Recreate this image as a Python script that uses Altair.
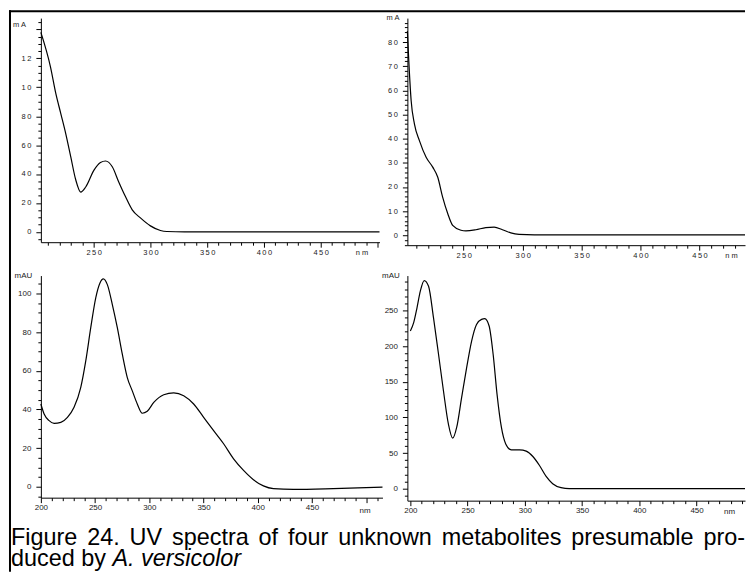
import altair as alt
import pandas as pd

# ---------------- data ----------------
# Panel A (top-left)
A_NM = [203.5, 212, 216.7, 221, 225.4, 229.8, 234.2, 238.6, 243, 250.3, 256, 260.5,
        266.4, 272, 278, 284, 291.2, 300, 308.8, 314.6, 330, 360, 400, 450, 501.8]
A_VAL = [138, 114, 95.6, 82, 68, 52, 36, 27.5, 31, 42.7, 48, 49,
         45, 34.7, 24.4, 15.2, 9.6, 4.1, 0.9, 0.2, 0, 0, 0, 0, 0]

# Panel B (top-right)
B_NM = [202.3, 203.5, 205.5, 208.3, 212.5, 218.2, 223.8, 228, 232.2, 236.5, 240.7, 247.7,
        251.9, 260.4, 268.8, 275.9, 282.9, 290, 297, 310, 350, 400, 450, 488.6]
B_VAL = [84.5, 72.2, 55.7, 46, 39.2, 32.3, 28.2, 24.1, 15.8, 9.0, 4.1, 2.1,
         1.8, 2.3, 3.2, 3.4, 2.3, 1.0, 0.4, 0.2, 0.2, 0.2, 0.2, 0.2]

# Panel C (bottom-left)
C_NM = [200, 203, 207.6, 212.2, 218.4, 224.5, 230.6, 236.8, 241.4, 246, 250.6, 254.5, 257.6,
        261.3, 265.9, 270.5, 275.1, 279.7, 284.3, 288.9, 293.5, 298.1, 304.1, 313.3, 322.5,
        331.7, 340.9, 350.1, 359.3, 368.5, 377.7, 386.9, 396, 405.2, 414.4, 432.8, 469.6, 515]
C_VAL = [42.8, 37.6, 34.2, 32.8, 33.3, 35.9, 41.1, 51.4, 65.1, 82.3, 97.8, 105.5, 107.6,
         104.6, 94.3, 82.3, 68.6, 56.5, 49.6, 42.8, 38.0, 39.0, 43.6, 47.6, 48.6,
         47.1, 42.8, 35.9, 29.0, 22.2, 14.4, 8.4, 3.6, 0.4, -1.0, -1.4, -1.0, -0.2]

# Panel D (bottom-right)
D_NM = [200, 202.9, 205.8, 208.7, 212.1, 215.9, 220.2, 224.6, 228.9, 233.2, 237, 240.5,
        244.8, 249.2, 253.5, 257.8, 262.2, 265, 268.8, 272.3, 275.7, 279.5, 283.3, 288.2,
        295.4, 301.2, 307, 312.8, 318.6, 324.3, 331.6, 338.8, 360, 400, 450, 492.3]
D_VAL = [221, 232.8, 253.7, 277, 291.9, 284, 239.8, 188.5, 137.3, 90.8, 70.8, 86.2,
         128.1, 170, 207.1, 230.4, 237.4, 238.4, 228.1, 188.5, 132.7, 86.2, 62.8, 54.5,
         54.5, 52.6, 45.1, 32.5, 17.2, 7.0, 1.4, 0, 0, 0, 0, 0]

CAPTION_1 = ["Figure", "24.", "UV", "spectra", "of", "four", "unknown",
             "metabolites", "presumable", "pro-"]
CAPTION_2_PLAIN = "duced by "
CAPTION_2_ITALIC = "A. versicolor"

# ---------------- helpers ----------------
FONT = "Liberation Sans"
INK = "#1a1a1a"
THIN = "\u2009"

ARIAL = {"F": 611, "i": 222, "g": 556, "u": 556, "r": 333, "e": 556, "2": 556, "4": 556,
         ".": 278, "U": 722, "V": 667, "s": 500, "p": 556, "c": 500, "t": 278, "a": 556,
         "o": 556, "f": 278, "k": 500, "n": 556, "w": 722, "m": 833, "b": 556, "l": 222,
         "-": 333, "d": 556, "y": 500, "A": 667, "v": 500, " ": 278}


def tw(s, size):
    return sum(ARIAL.get(c, 556) for c in s) * size / 1000.0


def tick_size(major, big=5, small=3):
    return {"condition": {"test": f"datum.value % {major} === 0", "value": big}, "value": small}


def x_axis(values, fs, spaced, first_label, tx, ty):
    lab = "datum.label"
    if spaced:
        lab = f"join(split(datum.label, ''), '{THIN}')"
    expr = (f"datum.value % 50 === 0 && datum.value >= {first_label} && datum.value <= 450 "
            f"? {lab} : ''")
    return alt.Axis(values=values, labelExpr=expr, tickSize=tick_size(50, 5, 3),
                    grid=False, domainColor="black", tickColor="black", domainWidth=1,
                    tickWidth=1, labelFont=FONT, labelFontSize=fs, labelColor=INK,
                    labelPadding=1, labelFlush=False, labelOverlap=False,
                    title="nm" if not spaced else "n m", titleFont=FONT, titleFontSize=fs,
                    titleFontWeight="normal", titleColor=INK, titleAngle=0,
                    titleX=tx, titleY=ty, titleAlign="center", titleBaseline="middle")


def y_axis(values, major, top_label, fs, spaced, title, tx, ty, trunc=False):
    lab = "datum.label"
    if trunc:
        lab = "(datum.value >= 100 ? slice(datum.label, 0, 2) : datum.label)"
    if spaced:
        lab = f"join(split({lab}, ''), '{THIN}')"
    expr = (f"datum.value % {major} === 0 && datum.value >= 0 && datum.value <= {top_label} "
            f"? {lab} : ''")
    return alt.Axis(values=values, labelExpr=expr, tickSize=tick_size(major, 5, 3),
                    grid=False, domainColor="black", tickColor="black", domainWidth=1,
                    tickWidth=1, labelFont=FONT, labelFontSize=fs, labelColor=INK,
                    labelPadding=5, labelFlush=False, labelOverlap=False,
                    title=title, titleFont=FONT, titleFontSize=fs, titleFontWeight="normal",
                    titleColor=INK, titleAngle=0, titleX=tx, titleY=ty,
                    titleAlign="center", titleBaseline="middle")


def spectrum(nm, val, xdom, ydom, xax, yax):
    df = pd.DataFrame({"nm": nm, "val": val})
    return alt.Chart(df).mark_line(color="black", strokeWidth=1.2,
                                   interpolate="monotone").encode(
        x=alt.X("nm:Q", scale=alt.Scale(domain=xdom, nice=False, zero=False), axis=xax),
        y=alt.Y("val:Q", scale=alt.Scale(domain=ydom, nice=False, zero=False), axis=yax),
    )


one = pd.DataFrame({"k": [0]})

# ---------------- panels ----------------
p1_line = spectrum(
    A_NM, A_VAL, [203.5, 501.8], [-7.2, 147.9],
    x_axis(list(range(210, 501, 10)), 7.5, True, 250, 322, 10),
    y_axis(list(range(-5, 148, 5)), 20, 120, 7.5, True, "m A", -22, 6, trunc=True),
)
border_v = alt.Chart(one).mark_rule(color="black", strokeWidth=2).encode(
    x=alt.value(-31), y=alt.value(-8), y2=alt.value(556))
border_h = alt.Chart(one).mark_rule(color="black", strokeWidth=2).encode(
    x=alt.value(-32), x2=alt.value(707), y=alt.value(-7))
p1 = alt.layer(p1_line, border_v, border_h).properties(width=340, height=225)

p2_line = spectrum(
    B_NM, B_VAL, [202.3, 488.6], [-4.1, 89.9],
    x_axis(list(range(210, 489, 10)), 7.5, True, 250, 325, 10),
    y_axis(list(range(-4, 90, 2)), 10, 80, 7.5, True, "m A", -15, -1),
)
p2 = alt.layer(p2_line).properties(width=339, height=228)

p3_line = spectrum(
    C_NM, C_VAL, [200, 515], [-5.7, 109.3],
    x_axis(list(range(200, 516, 10)), 8, False, 200, 325, 13),
    y_axis(list(range(-5, 110, 5)), 20, 100, 8, False, "mAU", -18, 0),
)

cap_size = 23.5
start_x, end_x = -30, 707
widths = [tw(w, cap_size) for w in CAPTION_1]
gap = (end_x - start_x - sum(widths)) / (len(CAPTION_1) - 1)
cap_layers = []
cx = start_x
for w, wd in zip(CAPTION_1, widths):
    cap_layers.append(
        alt.Chart(pd.DataFrame({"t": [w]})).mark_text(
            align="left", baseline="alphabetic", font=FONT, fontSize=cap_size, color="black"
        ).encode(x=alt.value(cx), y=alt.value(271), text="t:N"))
    cx += wd + gap
cap_layers.append(
    alt.Chart(pd.DataFrame({"t": [CAPTION_2_PLAIN]})).mark_text(
        align="left", baseline="alphabetic", font=FONT, fontSize=cap_size, color="black"
    ).encode(x=alt.value(start_x), y=alt.value(292), text="t:N"))
cap_layers.append(
    alt.Chart(pd.DataFrame({"t": [CAPTION_2_ITALIC]})).mark_text(
        align="left", baseline="alphabetic", font=FONT, fontSize=cap_size, color="black",
        fontStyle="italic"
    ).encode(x=alt.value(start_x + tw(CAPTION_2_PLAIN, cap_size)), y=alt.value(292),
             text="t:N"))

p3 = alt.layer(p3_line, *cap_layers).properties(width=343, height=223)

p4_line = spectrum(
    D_NM, D_VAL, [197.4, 492.3], [-16.8, 298.9],
    x_axis(list(range(200, 493, 10)), 8, False, 200, 323, 11),
    y_axis(list(range(-10, 300, 10)), 50, 250, 8, False, "mAU", -17, 0),
)
p4 = alt.layer(p4_line).properties(width=339, height=226)

chart = alt.concat(
    p1, p2, p3, p4, columns=2,
    spacing={"row": 30.5, "column": 25},
    bounds="flush",
    padding={"top": 0, "left": 0, "right": 0, "bottom": 0},
    background="white",
).configure_view(strokeWidth=0)

chart.save("out.html", embed_options={"renderer": "svg", "actions": False})
